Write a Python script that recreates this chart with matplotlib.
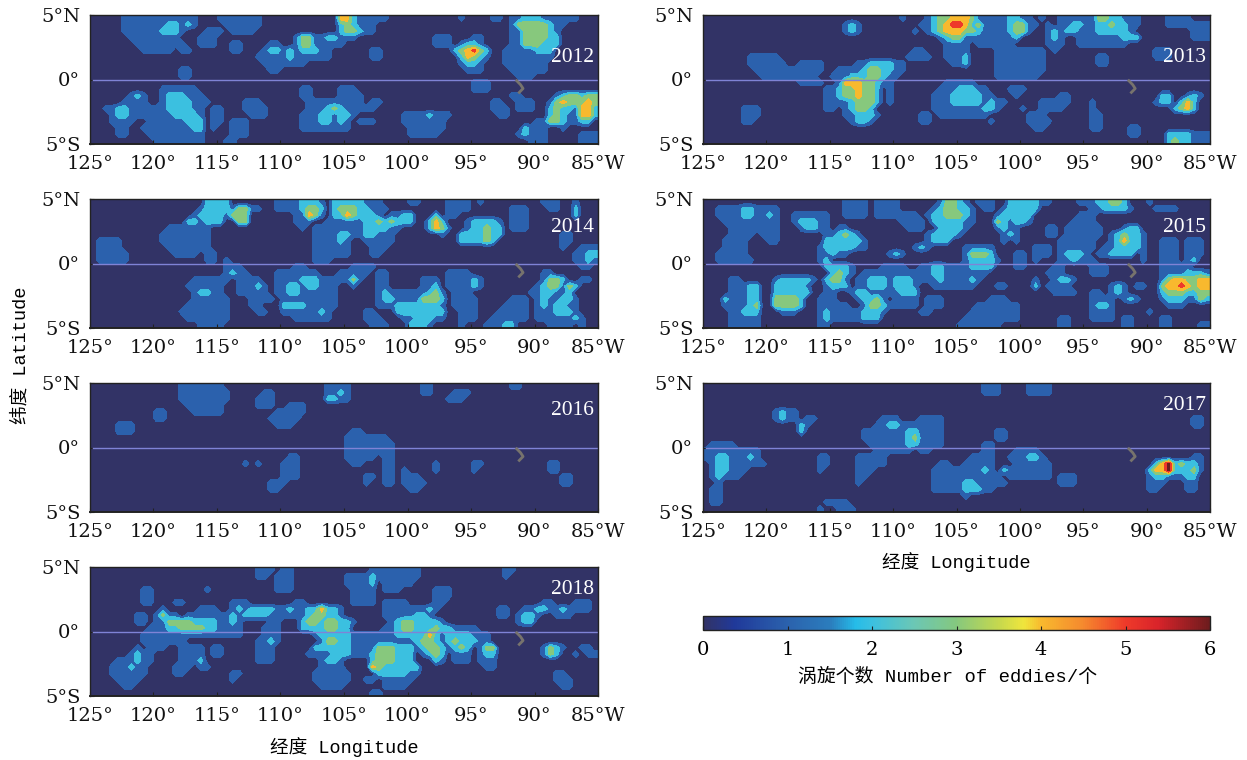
#!/usr/bin/env python
"""Eddy counts by year, 2012-2018, equatorial Pacific."""

import matplotlib
matplotlib.use("Agg")
import matplotlib.pyplot as plt
import numpy as np
from matplotlib.cm import ScalarMappable
from matplotlib.colors import LinearSegmentedColormap, Normalize

# each row is 0.5 deg of latitude, north at the top; each group is 5 deg of
# longitude (10 cells of 0.5 deg), "." alone means a group with no eddies
GRID_2012 = [
    ".....11111 1111111... 1111111... .........4 4211111... ........1. ...11.1122 2111111...",
    ".....11111 1122121... .111111... .........2 32111..... . ......1333 33211.....",
    ".....11111 12221...11 1.1111.... .........2 33211..... . ......1133 3321......",
    "......1111 1111...111 . ..13311221 11........ ....111... 11....1133 3322......",
    ".......111 11111..111 ..11....11 ..13311111 . ....111.12 21....1133 3222......",
    "........11 111.11.... ..11...122 12122211.. ....11.... .......234 532..11111 222.......",
    ". . ......1111 12111111.. ....11.... ........24 321..11111 111.......",
    ". . .......111 1111...... . ........12 21...11111 11........",
    ". ....11.... ........11 . . .........1 11....1111 11........",
    ". ....11.... . . . . .......111 .",
    ". . . . . . 111....... .",
    ". .111111... . ...11....1 11........ . 111....... .",
    "......121. .1222111.. . ...11....1 111....... . ......11.. ...1233233",
    ".....1111. .12222111. ....111... ....111111 111.11.... . ...11..111 ..13433343",
    "..11221111 11222211.1 1...1111.. ....111232 11111..... . ...111.111 ..23221442",
    "...1221111 11122221.1 1....111.. ...1112212 21.......1 1112111... ....11.... ..23211442",
    "...1111..1 11111222.1 1.111..... ...1112212 1.111....1 111111.... . 113321122.",
    "....11..11 11111122.1 ..111..... ...1111111 1......... 111111.... ........21 11..1.....",
    "....11...1 11111111.. ..111..... . . 11111..... .......121 11.....111",
    ". 11111111.. .11....... . . . .........1 11.....111",
]
GRID_2013 = [
    ". . . .1...12334 4431111122 11.1..1111 113322111. ...1111...",
    ". . ..121..... ....112345 5423111123 311.1.1122 112232211. ...1111111",
    ". . ..121..... ...1.12344 4332111123 31..121221 11222221.. .......111",
    ". . . .......123 3111111112 ....121..1 111111222. .......111",
    ". . . ........11 11.111111. ....111..1 1111111... .",
    ". . . ...11...11 11....1111 1111.1.... . .111......",
    ".......111 11........ . ..1111..11 12....1111 1111...... ..11...... .111......",
    ".......111 111..1111. ....112222 11.......1 12....1111 1111...... ..11...... .",
    "........11 111111111. .111123322 11........ ......1111 1111...... . .",
    ".........1 11111111.. 1112223321 1......... ......1111 111....... . .",
    ". .....1111. .144433211 ........11 111....... . . .",
    ". .........1 12334332.1 .......111 22211...11 1......... . .",
    ". .........1 12334332.1 ......1112 222211...1 ......11.. . ..22..121.",
    ". .........1 11123332.1 ......1112 22221211.. ...11111.. .1........ .122.242..",
    "......111. .........1 1.12332... ......1111 1111221... 1..1111... .1........ ....2342..",
    "......111. . ..112221.. ....11.111 11111..... .111...... .11....... .",
    "......11.. . ...1221... ....11.... .....1.... .1111..... .11....... .",
    ". . . . . ..11...... .11....11. .",
    ". . . . . . .......11. ...2222111",
    ". . . . . . . ...2322111",
]
GRID_2014 = [
    ". ........22 22.......1 1112221.22 222111.... 11....1111 .1........ .111..1...",
    ". .......122 2213311..1 1112332.23 3322111... ......1111 ......111. ..11..2...",
    ". ......1222 21333..... ..11431.22 432221.112 2...2.11.. ......111. ......2...",
    ". .....22122 2..33..... ..111..111 1112232322 2..242...1 22221.111. .",
    ". ..1111111. . ...1.11111 111222211. ...2431..1 22322.111. .",
    ". .11111111. . .....11112 21122111.. .....1..22 22322..... ....11....",
    ".1111..... .11111111. . .....11112 1..11111.. ........22 2232...... ....11....",
    ".1111..... ..1111111. . .....11111 1...111... . . ....1..111",
    ".11111.... ...1111.11 . .....11111 1...11.... . . ......1122",
    ".11111.... ........11 .1........ .....111.. . . . ......1121",
    ". . .111...... ..11...... .1111..... . . .......11.",
    ". . .1211....1 111111...1 1111.11... ......1111 . .11.......",
    ". ......1111 11.1111..1 1112221111 131..11... ..111.1111 21........ .1332..11.",
    ". .....11111 1..11121.1 122122111. .1...11... ..112.1111 21........ 1233132...",
    ". ......1221 1..11111.1 122111111. .....12111 111231.111 .........1 122112....",
    ". ......1111 11...1111. 111111111. .....12211 113332.111 1.....111. 1211221...",
    ". .....11111 11...11... 222211111. .....11122 222221.111 1....1111. 1212211...",
    ". ....111111 11....11.. 11111121.. ...11...22 222222..11 1...11111. 1112221...",
    ". .....11111 11........ ..111111.. ...111...1 122211..11 1..111111. 11111121..",
    ". .......111 1......... . ....111... 2221....1. ..11122... ..1111.1..",
]
GRID_2015 = [
    ". . ..1111.111 1......133 21.111..22 22211....1 1122332 1.. .111111...",
    "..11112211 11........ ..1111.111 1.....1233 221.11.122 222....... .1122221.. .1111.....",
    "..11112211 21..111111 ..1111.111 1111.12233 321...1222 22.......1 11........ .",
    "...1111111 11..122211 . .1111.2222 211...3212 21......11 11........ .",
    "....111111 11...12211 .11....... ..111..222 21....1211 ....11.111 111...122. .",
    "....1111.1 11.......1 12321..... .....12222 1......121 ....11.111 111.123221 .",
    "...1111... 11.......2 222221.... .....1222. .......1.1 ......1111 11..124221 ..111.111.",
    "...1111... ........12 222211.... ...121.... .11111.... ..111.1111 11.1122221 ..111.111.",
    "..11111... ........11 211......1 21........ .13332...1 1.111.1222 1.112222.1 ..111.111.",
    "..111111.. ........12 . . .122221..1 1.1...1121 11.......1 ..111.12..",
    ". .........2 2221....11 11..112211 112222...1 1....11... .111...... ..11111...",
    ". . 2321.11111 1111112211 11111..... ....111... .111...... ..11112221",
    "....11.... .1222221.2 331.112221 2221111211 1121...... ..1..1221. . ..13443344",
    "....11122. .222221..1 222.112221 2221..1111 111...11.. ..2.1111.. ....121.11 ..34454344",
    "....11122. .222222..1 1..1221111 1222...... . .....1111. .11.121... ..23332233",
    "...211122. .33332..11 1...12231. 1111.111.. .....111.. . .1111.121. ..12221132",
    "...111123. .33332..11 111..13321 1111.111.. ...1111111 . .1221..... ...111....",
    "....11222. ..111...12 111112221. ....11.... ..11111111 . .1111..... 1.........",
    "....11111. ........12 11111222.. . .111111111 ......11.. .1111.11.. ..11......",
    "....11111. ........11 . . 1111111... ......11.. ......11.. ..11....11",
]
GRID_2016 = [
    ". ....111111 1......... .......111 1......... ..11...... ......11.. .",
    ". ....111111 11.....11. .......112 1......... ..11...111 . .",
    ". ....111111 11....111. .......221 1......... ......111. . .",
    ". .....11111 1.....111. .111...... . . . .",
    ". 11....1111 1........1 1111...... . . . .",
    ". 11........ ........11 111....... . . . .",
    "....111... . .........1 11........ . . . .",
    "....111... . . . .11....... . . .",
    ". . . . 1111111... . . .",
    ". . . . 11111111.. . . .",
    ". . . . 11111111.. . . .",
    ". . . .11....... 11111.11.. . . .",
    ". . ....1.1... 111....... .11...11.. ....1..... 11........ ..11......",
    ". . . 111....... ......11.1 ....1..... 1......... ..11......",
    ". . . 111....... ...11.11.1 11........ . ....11....",
    ". . ........11 1......... ...1..11.1 111....... . ....11....",
    ". . ........11 . . 11........ . .",
    ". . . . . . . .",
    ". . . . . . . .",
    ". . . . . . . .",
]
GRID_2017 = [
    ". . . . ....111... .1111..... . .",
    ". . . . ....111... .1111..... . .",
    ". . . . . . . .",
    ". . . . . . . .",
    ". .1211..... . . . . . .",
    ". .1211.11.. ........11 1...1111.. . . . .......11.",
    ". .....21... .......112 21111111.. . . . .......11.",
    ". .....2.... .....11111 11221111.. ......11.. . . .",
    ". . .....11111 11231111.. ......11.. . . .",
    ".1111..... . ......1111 11221111.. ....11.... . . .",
    "111111111. . .......111 111.11.... ....11...1 111....... . .",
    "112211121. ........11 ....11111. . ..1111..11 1221...... . .......11.",
    ".122111111 ........11 ....11111. .......11. .11111...1 11111..... . .24623221.",
    ".122111... ........1. ....111... ......1111 111121.211 11111..... . 244622231.",
    ".12111.... . ....11.... ......1111 1111111.11 11111.111. . 12211122..",
    "..1....... . ....1..... ......1111 12211111.. ......111. . 111...11..",
    ".11....... . . ......1111 122211.... . . 11....11..",
    ".11....... . . . .1........ . . .",
    ".11....... .........1 111....... . . . . .",
    ". ........1. .111...... . . . . .",
]
GRID_2018 = [
    ". . ......111. 11........ ....111111 11........ .....11... .",
    ". . ......11.1 11........ 1111211111 11........ .....1.... .",
    ". . .........1 11........ 11112.1111 1......... . .",
    "........11 ........1. .........1 11........ .1111.111. ....111... . .",
    "........11 . . . .1111..... ....111... . .",
    "........11 ...11..... ..111..... ..11...... .1111.1111 ....11.... . .11...111.",
    ". .1.....111 ..12122221 1211224221 ......1111 11121..... ....11..11 221121111.",
    ".......11. 1311.11111 1121222211 1111233221 ......1111 1221...... ....11.122 1..111....",
    ".......11. 1133332222 1121....11 ...2332332 21.....123 322221.... .......122 .",
    ".........1 1122333322 1111...111 ...2222332 2.....1123 3222322111 1......... .",
    "........11 1111111111 1111...111 .....12222 2111111122 2224212222 111....... .",
    "........11 11111..... ......1121 ......1332 2111111111 1233212322 211....... .",
    ".......1.1 11..1111.1 1.....111. .....22222 2111133322 2123321232 .133...... .1321..11.",
    "......1211 ....1111.1 1.....111. ....111122 2111233322 2.1232.111 .122...... .132..1.11",
    "....111211 ....1112.. ......111. ......1221 ....233322 2...21.111 .111...... .",
    "...111211. ...111.11. . ......1111 ....432222 22........ ..11...... .",
    "...111111. ...11..... ..11...... .....11111 1....22222 11........ . ...11.....",
    "....1111.. . ..1....... .....11111 1..11.1111 1......... . ...111....",
    ".....11... . . ......1111 ......1111 . . ....11....",
    ". . . . ....11.... . . .",
]

YEARS = [2012, 2013, 2014, 2015, 2016, 2017, 2018]
GRIDS = [GRID_2012, GRID_2013, GRID_2014, GRID_2015, GRID_2016, GRID_2017, GRID_2018]
LON_TICKS = [125, 120, 115, 110, 105, 100, 95, 90, 85]
LON_LABELS = ["125°", "120°", "115°", "110°", "105°", "100°", "95°", "90°", "85°W"]
LAT_TICKS = [-5, 0, 5]
LAT_LABELS = ["5°S", "0°", "5°N"]
ISLAND_LON = [91.4, 91.1, 90.9, 91.2]
ISLAND_LAT = [-0.1, -0.4, -0.7, -1.0]
COUNT_TICKS = [0, 1, 2, 3, 4, 5, 6]

W, H = 1247, 760
# left, top, right, bottom in pixels
BOXES = {
    2012: (90, 15, 598, 144),
    2013: (703, 15, 1210, 144),
    2014: (90, 199, 598, 328),
    2015: (703, 199, 1210, 328),
    2016: (90, 383, 598, 512),
    2017: (703, 383, 1210, 512),
    2018: (90, 567, 598, 696),
}
YEAR_Y = {2012: 57, 2013: 57, 2014: 228, 2015: 228, 2016: 411, 2017: 406, 2018: 589}

CMAP = LinearSegmentedColormap.from_list(
    "eddies",
    [
        (0.0, "#323366"),
        (0.06, "#20399a"),
        (1 / 6, "#2b62ad"),
        (0.25, "#2b7dbd"),
        (0.30, "#25bce9"),
        (1 / 3, "#3bc0e0"),
        (2.5 / 6, "#6cc7b4"),
        (0.5, "#85c87e"),
        (3.5 / 6, "#c5d84e"),
        (3.8 / 6, "#f0e63c"),
        (4 / 6, "#f8b92e"),
        (4.5 / 6, "#f58a2e"),
        (5 / 6, "#ef3a2a"),
        (5.4 / 6, "#d8232a"),
        (1.0, "#6e1c1e"),
    ],
)
NORM = Normalize(0, 6)
LEVELS = [-0.5, 0.5, 1.5, 2.5, 3.5, 4.5, 5.5, 6.5]
FILL_COLORS = [CMAP(NORM(v)) for v in COUNT_TICKS]

TICK_FONT = ["DejaVu Serif"]
LABEL_FONT = ["Liberation Mono", "Noto Sans CJK SC"]
INK = "#222222"


def parse(rows):
    cells = []
    for row in rows:
        line = "".join(g.ljust(10, ".")[:10] for g in row.split(" ")).ljust(80, ".")[:80]
        cells.append([0 if c == "." else int(c) for c in line])
    return np.array(cells, dtype=float)


def add_axes(fig, box):
    left, top, right, bottom = box
    return fig.add_axes([left / W, 1 - bottom / H, (right - left) / W, (bottom - top) / H])


def main():
    plt.rcParams["font.family"] = TICK_FONT
    fig = plt.figure(figsize=(W / 100, H / 100), dpi=100)

    # cell centres, one extra row and column round the edge so blobs reach the frame
    lons = 125.25 - 0.5 * np.arange(82)
    lats = 5.25 - 0.5 * np.arange(22)

    for year, rows in zip(YEARS, GRIDS):
        box = BOXES[year]
        ax = add_axes(fig, box)
        values = np.pad(parse(rows), 1, mode="edge")
        ax.contourf(lons, lats, values, levels=LEVELS, colors=FILL_COLORS, antialiased=False)
        ax.axhline(0, xmin=0.005, color="#7f83d6", lw=1.0)
        ax.plot(ISLAND_LON, ISLAND_LAT, color="#77736d", lw=2.0)
        ax.set_xlim(125, 85)
        ax.set_ylim(-5, 5)
        ax.set_xticks(LON_TICKS, LON_LABELS)
        ax.set_yticks(LAT_TICKS, LAT_LABELS)
        ax.tick_params(direction="in", length=3, width=0.8, color=INK, labelsize=14, labelcolor="#111111")
        ax.tick_params(axis="x", pad=8)
        ax.tick_params(axis="y", pad=7)
        for side in ax.spines.values():
            side.set_color(INK)
            side.set_linewidth(1.0)
        ax.spines["bottom"].set_linewidth(1.4)
        fig.text((box[2] - 4) / W, 1 - YEAR_Y[year] / H, str(year), color="white", ha="right", va="center",
                 family="Liberation Serif", fontsize=15.5)

    cax = add_axes(fig, (703, 616, 1210, 630))
    bar = fig.colorbar(ScalarMappable(NORM, CMAP), cax=cax, orientation="horizontal", ticks=COUNT_TICKS)
    bar.ax.tick_params(direction="in", length=3, width=0.8, color=INK, labelsize=14, pad=8)
    bar.outline.set_edgecolor(INK)
    bar.outline.set_linewidth(1.0)

    fig.text(21 / W, 1 - 355 / H, "纬度 Latitude", rotation=90, ha="center", va="center", family=LABEL_FONT, fontsize=13.4)
    fig.text(344 / W, 1 - 747 / H, "经度 Longitude", ha="center", va="center", family=LABEL_FONT, fontsize=13.4)
    fig.text(956 / W, 1 - 562 / H, "经度 Longitude", ha="center", va="center", family=LABEL_FONT, fontsize=13.4)
    fig.text(948 / W, 1 - 677 / H, "涡旋个数 Number of eddies/个", ha="center", va="center", family=LABEL_FONT, fontsize=13.6)

    fig.savefig("out.png", dpi=100)


if __name__ == "__main__":
    main()
